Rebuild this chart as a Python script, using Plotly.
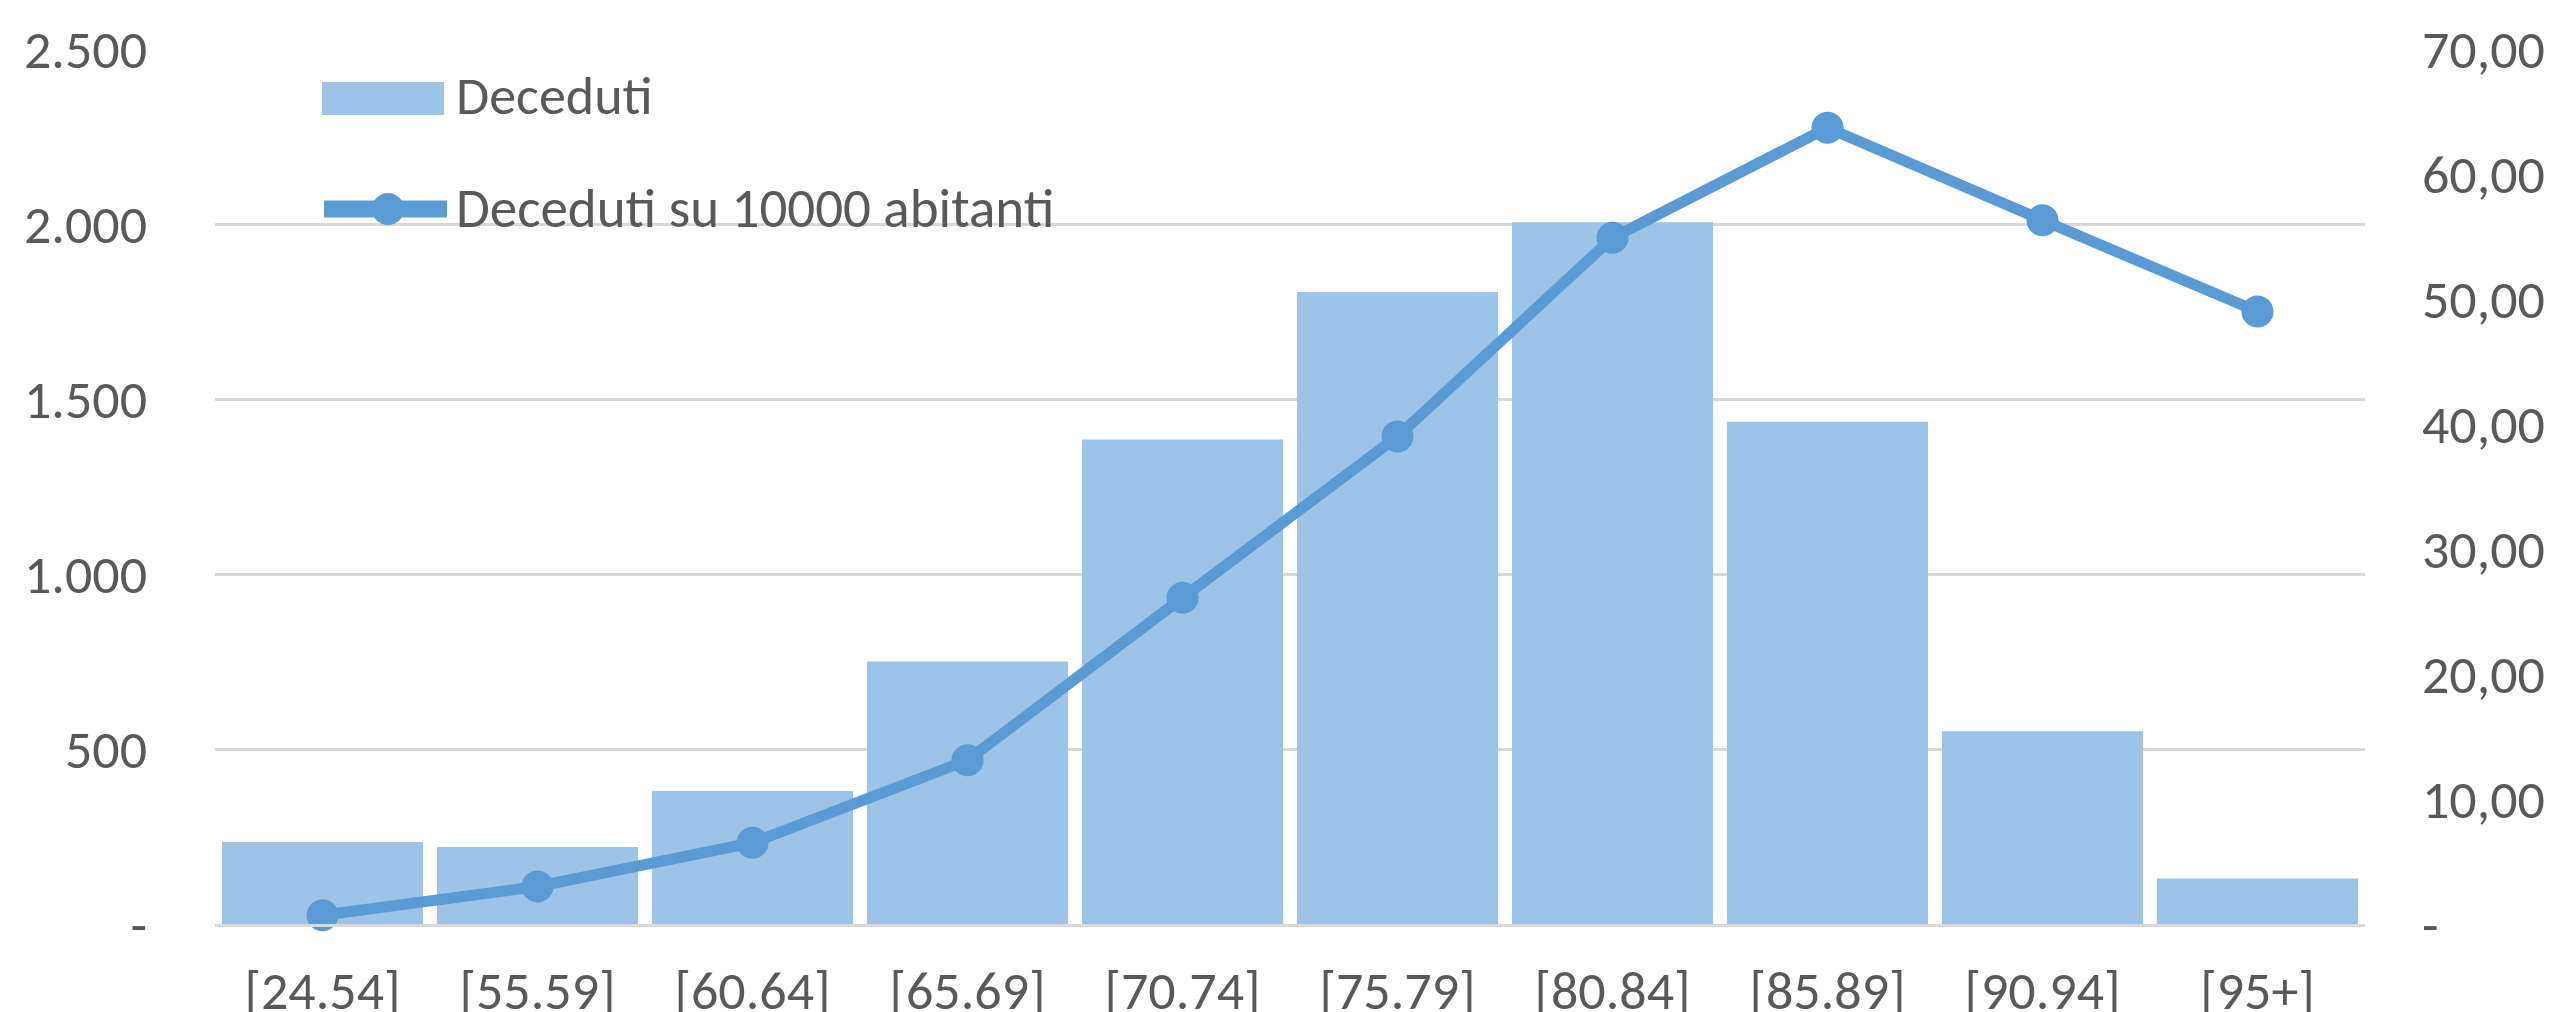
import plotly.graph_objects as go

categories = ["[24.54]", "[55.59]", "[60.64]", "[65.69]", "[70.74]",
              "[75.79]", "[80.84]", "[85.89]", "[90.94]", "[95+]"]
deceduti = [234, 220, 380, 750, 1384, 1806, 2005, 1435, 551, 130]
deceduti_10000 = [0.7, 3.0, 6.5, 13.1, 26.1, 39.0, 54.9, 63.7, 56.3, 49.0]

left_tickvals = [0, 500, 1000, 1500, 2000, 2500]
left_ticktext = ["-", "500", "1.000", "1.500", "2.000", "2.500"]
right_tickvals = [0, 10, 20, 30, 40, 50, 60, 70]
right_ticktext = ["-", "10,00", "20,00", "30,00", "40,00", "50,00", "60,00", "70,00"]

BAR_COLOR = "#9DC3E6"
LINE_COLOR = "#5B9BD5"
GRID = "#D9D9D9"
TXT = "#595959"
FONT = "Carlito, Calibri, Liberation Sans Narrow, Lato, sans-serif"

W, H = 2560, 1012
L, R, T, B = 207, 203, 41, 96
PW, PH = W - L - R, H - T - B

def px(x):
    return (x - L) / PW

def py(y):
    return (H - B - y) / PH

fig = go.Figure()
fig.add_trace(go.Bar(x=categories, y=deceduti, name="Deceduti",
                     marker=dict(color=BAR_COLOR, line=dict(width=0)),
                     yaxis="y"))
fig.add_trace(go.Scatter(x=categories, y=deceduti_10000, name="Deceduti su 10000 abitanti",
                         mode="lines+markers",
                         line=dict(color=LINE_COLOR, width=11),
                         marker=dict(color=LINE_COLOR, size=32),
                         yaxis="y2", cliponaxis=False))

shapes = []
annotations = []
# custom legend
shapes.append(dict(type="rect", xref="paper", yref="paper",
                   x0=px(314), x1=px(436), y0=py(107), y1=py(74),
                   fillcolor=BAR_COLOR, line=dict(width=0), layer="above"))
annotations.append(dict(xref="paper", yref="paper", x=px(446), y=py(88),
                        text="Deceduti", showarrow=False, xanchor="left", yanchor="middle",
                        font=dict(family=FONT, size=54, color=TXT)))
shapes.append(dict(type="line", xref="paper", yref="paper",
                   x0=px(316), x1=px(439), y0=py(201), y1=py(201),
                   line=dict(color=LINE_COLOR, width=17), layer="above"))
shapes.append(dict(type="circle", xref="paper", yref="paper",
                   x0=px(364), x1=px(396), y0=py(217), y1=py(185),
                   fillcolor=LINE_COLOR, line=dict(width=0), layer="above"))
annotations.append(dict(xref="paper", yref="paper", x=px(446), y=py(200),
                        text="Deceduti su 10000 abitanti", showarrow=False,
                        xanchor="left", yanchor="middle",
                        font=dict(family=FONT, size=55, color=TXT)))
# bottom border line
shapes.append(dict(type="line", xref="paper", yref="paper",
                   x0=px(0), x1=px(W), y0=py(1009), y1=py(1009),
                   line=dict(color=GRID, width=3)))

fig.update_layout(
    width=W, height=H,
    margin=dict(l=L, r=R, t=T, b=B, autoexpand=False),
    paper_bgcolor="white", plot_bgcolor="white",
    showlegend=False,
    bargap=0.065,
    shapes=shapes, annotations=annotations,
    xaxis=dict(type="category", range=[-0.5, 9.5], showgrid=False,
               showline=True, linecolor=GRID, linewidth=3,
               ticks="", tickfont=dict(family=FONT, size=54, color=TXT),
               ticklabelstandoff=17, automargin=False),
    yaxis=dict(range=[0, 2500], tickvals=left_tickvals, ticktext=left_ticktext,
               showgrid=True, gridcolor=GRID, gridwidth=3, zeroline=False,
               showline=False, ticks="",
               tickfont=dict(family=FONT, size=54, color=TXT),
               ticklabelstandoff=67, automargin=False),
    yaxis2=dict(range=[0, 70], tickvals=right_tickvals, ticktext=right_ticktext,
                overlaying="y", side="right", showgrid=False, zeroline=False,
                showline=False, ticks="",
                tickfont=dict(family=FONT, size=54, color=TXT),
                ticklabelstandoff=56, automargin=False),
)

fig.write_html("out.html")
